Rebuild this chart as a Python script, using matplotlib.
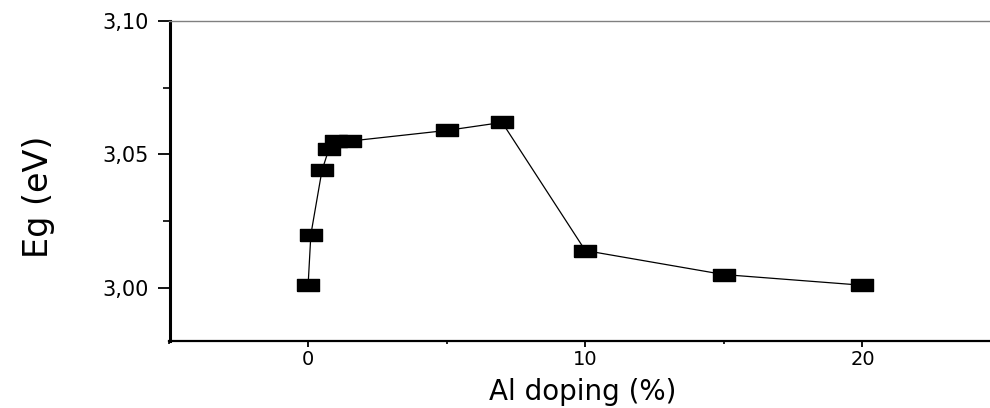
import numpy as np
import matplotlib.pyplot as plt
from matplotlib.ticker import MultipleLocator, FuncFormatter

# Al doping (%) and band gap Eg (eV)
doping = [0, 0.1, 0.5, 0.75, 1.0, 1.5, 5, 7, 10, 15, 20]
eg = [3.001, 3.020, 3.044, 3.052, 3.055, 3.055, 3.059, 3.062, 3.014, 3.005, 3.001]

# wide flat rectangle used as marker
rect = [(-1, -0.5), (1, -0.5), (1, 0.5), (-1, 0.5), (-1, -0.5)]

fig = plt.figure(figsize=(9.9, 4.08), dpi=100)
ax = fig.add_axes([169.5 / 990, 1 - 341.3 / 408, 1 - 169.5 / 990, (341.3 - 21) / 408])

ax.plot(doping, eg, color='black', lw=0.9, marker=rect, ms=16,
        markerfacecolor='black', markeredgecolor='black')

ax.set_xlim(-5, 24.6)
ax.set_ylim(2.98, 3.10)

ax.xaxis.set_major_locator(MultipleLocator(10))
ax.xaxis.set_minor_locator(MultipleLocator(5))
ax.yaxis.set_major_locator(MultipleLocator(0.05))
ax.yaxis.set_minor_locator(MultipleLocator(0.025))
ax.yaxis.set_major_formatter(FuncFormatter(lambda v, p: ('%.2f' % v).replace('.', ',')))

ax.spines['right'].set_visible(False)
ax.spines['top'].set_color('#808080')
ax.spines['top'].set_linewidth(1.0)
ax.spines['left'].set_linewidth(2.2)
ax.spines['bottom'].set_linewidth(1.6)

ax.tick_params(axis='y', which='major', direction='out', length=9, width=1.3, labelsize=15, pad=6)
ax.tick_params(axis='y', which='minor', direction='out', length=5, width=1.2)
ax.tick_params(axis='x', which='major', direction='out', length=4, width=1.3, labelsize=14, pad=2)
ax.tick_params(axis='x', which='minor', direction='out', length=2, width=1.2)

ax.set_xlabel('Al doping (%)', fontsize=20, va='bottom')
ax.xaxis.set_label_coords((583 - 169.5) / (990 - 169.5), -(406 - 341.3) / 320.3)
ax.set_ylabel('Eg (eV)', fontsize=24)
ax.yaxis.set_label_coords(-0.14, 0.45)

fig.savefig('out.png', dpi=100)
